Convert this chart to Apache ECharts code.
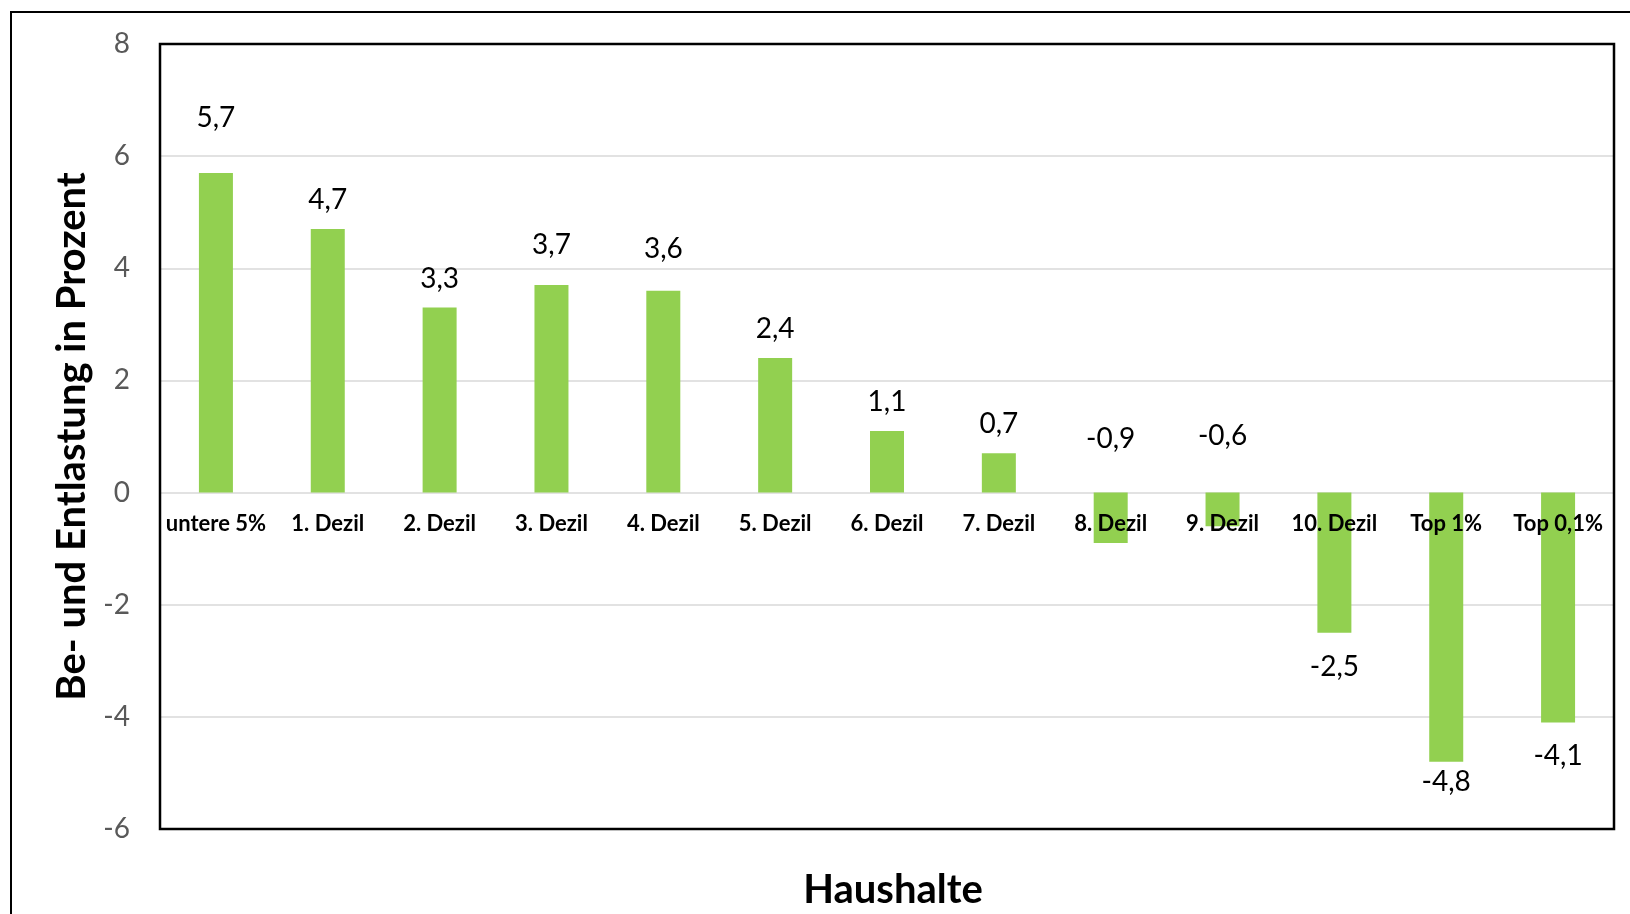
<!DOCTYPE html>
<html>
<head>
<meta charset="utf-8">
<script src="https://cdn.jsdelivr.net/npm/echarts@6/dist/echarts.min.js"></script>
<style>
  html, body { margin: 0; padding: 0; background: #fff; }
  #chart { width: 1630px; height: 914px; }
</style>
</head>
<body>
<div id="chart"></div>
<script>
// Households by income group
const categories = ['untere 5%', '1. Dezil', '2. Dezil', '3. Dezil', '4. Dezil', '5. Dezil',
  '6. Dezil', '7. Dezil', '8. Dezil', '9. Dezil', '10. Dezil', 'Top 1%', 'Top 0,1%'];
// Burden (-) / relief (+) in percent
const values = [5.7, 4.7, 3.3, 3.7, 3.6, 2.4, 1.1, 0.7, -0.9, -0.6, -2.5, -4.8, -4.1];
// Y axis ticks
const yMin = -6, yMax = 8, yStep = 2;

// Label placement per bar: which side of the bar and how far from it
const labelSide = ['top', 'top', 'top', 'top', 'top', 'top', 'top', 'top', 'top', 'top', 'bottom', 'bottom', 'bottom'];
const labelGap = [41, 15, 15, 26, 28, 15, 15, 15, 40, 43, 20, 6, 20];

const fontFamily = 'Lato, "Open Sans", sans-serif';
const fmt = v => String(v).replace('.', ',');

// Plot area geometry
const gridLeft = 160, gridTop = 44, gridW = 1454, gridH = 785;
// Distance from the bottom of the plot up to the zero line; the category axis sits there
const zeroFromBottom = gridH * (0 - yMin) / (yMax - yMin);

const chart = echarts.init(document.getElementById('chart'), null, { renderer: 'canvas' });

chart.setOption({
  backgroundColor: '#ffffff',
  animation: false,
  grid: {
    left: gridLeft, top: gridTop, width: gridW, height: gridH,
    show: false,
    containLabel: false, outerBoundsMode: 'none'
  },
  xAxis: {
    type: 'category',
    data: categories,
    offset: -zeroFromBottom,
    z: 10,
    axisLine: { show: false, onZero: false },
    axisTick: { show: false },
    axisLabel: {
      interval: 0, margin: 20, color: '#000000',
      fontFamily, fontWeight: 'bold', fontSize: 22
    },
    splitLine: { show: false }
  },
  yAxis: {
    type: 'value',
    min: yMin, max: yMax, interval: yStep,
    name: 'Be- und Entlastung in Prozent',
    nameLocation: 'middle',
    nameGap: 67,
    nameTextStyle: { fontFamily, fontWeight: 'bold', fontSize: 40, color: '#000000' },
    axisLine: { show: false },
    axisTick: { show: false },
    axisLabel: { margin: 30, color: '#595959', fontFamily, fontSize: 28 },
    splitLine: { show: true, lineStyle: { color: '#d9d9d9', width: 1.5 } }
  },
  series: [{
    type: 'bar',
    barWidth: 34,
    z: 2,
    itemStyle: { color: '#92d050' },
    data: values.map((v, i) => ({
      value: v,
      label: {
        show: true,
        position: labelSide[i],
        distance: labelGap[i],
        formatter: p => fmt(p.value),
        color: '#000000', fontFamily, fontSize: 28
      }
    }))
  }],
  graphic: [
    {
      // outer chart frame
      type: 'rect', silent: true, z: -1,
      shape: { x: 11, y: 12, width: 1700, height: 1000 },
      style: { fill: 'none', stroke: '#000000', lineWidth: 2 }
    },
    {
      // plot area frame
      type: 'rect', silent: true, z: 100,
      shape: { x: gridLeft, y: gridTop, width: gridW, height: gridH },
      style: { fill: 'none', stroke: '#000000', lineWidth: 2.5 }
    },
    {
      type: 'text', silent: true,
      x: 893, y: 890,
      style: {
        text: 'Haushalte', fill: '#000000',
        font: 'bold 40px ' + fontFamily,
        textAlign: 'center', textVerticalAlign: 'middle'
      }
    }
  ]
});
</script>
</body>
</html>
